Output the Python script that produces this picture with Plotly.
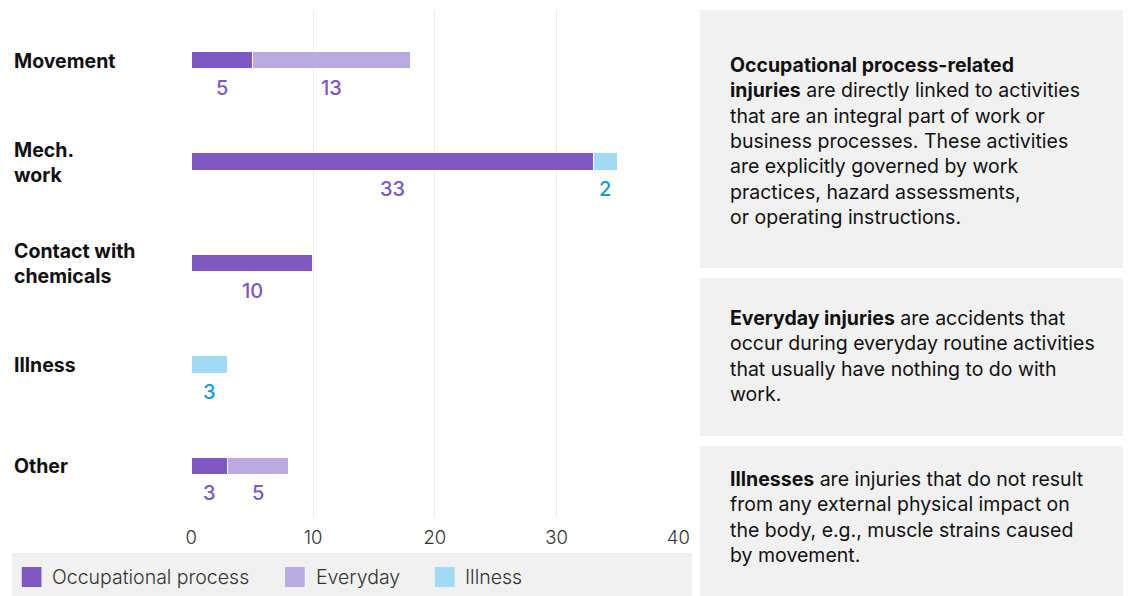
import plotly.graph_objects as go

categories = ["Movement", "Mech. work", "Contact with chemicals", "Illness", "Other"]
category_labels = ["Movement", "Mech.<br>work", "Contact with<br>chemicals", "Illness", "Other"]
series_names = ["Occupational process", "Everyday", "Illness"]
occupational = [5, 33, 10, 0, 3]
everyday = [13, 0, 0, 0, 5]
illness = [0, 2, 0, 3, 0]
x_ticks = [0, 10, 20, 30, 40]

series_values = [occupational, everyday, illness]
bar_colors = ["#7E57C5", "#BDA9E1", "#A0DAF3"]
label_colors = ["#7E57C5", "#7E57C5", "#1A9BD7"]

notes = [
    "<b>Occupational process-related</b><br><b>injuries</b> are directly linked to activities<br>that are an integral part of work or<br>business processes. These activities<br>are explicitly governed by work<br>practices, hazard assessments,<br>or operating instructions.",
    "<b>Everyday injuries</b> are accidents that<br>occur during everyday routine activities<br>that usually have nothing to do with<br>work.",
    "<b>Illnesses</b> are injuries that do not result<br>from any external physical impact on<br>the body, e.g., muscle strains caused<br>by movement.",
]

W, H = 1133, 596
FONT = "Inter, Roboto, sans-serif"


def px(x):
    return x / W


def py(y):
    return 1 - y / H


fig = go.Figure()
for name, vals, col in zip(series_names, series_values, bar_colors):
    fig.add_trace(go.Bar(
        y=categories, x=vals, name=name, orientation="h",
        marker=dict(color=col, line=dict(color="white", width=1)),
        width=0.17, showlegend=False, hoverinfo="x+name",
    ))

annotations = []
# category labels, left aligned
for cat, lab in zip(categories, category_labels):
    annotations.append(dict(
        xref="paper", yref="y", x=px(7), y=cat, text=lab, showarrow=False,
        xanchor="left", yanchor="middle", align="left",
        font=dict(family=FONT, size=19.5, color="#111111", weight=700),
    ))

# value labels under each segment
for i, cat in enumerate(categories):
    start = 0
    for vals, lc in zip(series_values, label_colors):
        v = vals[i]
        if v > 0:
            annotations.append(dict(
                xref="x", yref="y", x=start + v / 2, y=cat, yshift=-27,
                text=str(v), showarrow=False, xanchor="center", yanchor="middle",
                font=dict(family=FONT, size=20, color=lc, weight=500),
            ))
        start += v

shapes = []
# legend panel
shapes.append(dict(type="rect", xref="paper", yref="paper",
                   x0=px(7), x1=px(697), y0=py(597), y1=py(553),
                   fillcolor="#F1F1F1", line=dict(width=0), layer="below"))
legend_x = [17, 284, 436]
for name, col, lx in zip(series_names, bar_colors, legend_x):
    shapes.append(dict(type="rect", xref="paper", yref="paper",
                       x0=px(lx), x1=px(lx + 20), y0=py(587), y1=py(567),
                       fillcolor=col, line=dict(width=0)))
    annotations.append(dict(
        xref="paper", yref="paper", x=px(lx + 29), y=py(577), text=name,
        showarrow=False, xanchor="left", yanchor="middle",
        font=dict(family=FONT, size=19.5, color="#333333", weight=300),
    ))

# explanation boxes
boxes = [(10, 268, 51), (278, 436, 304), (446, 600, 465)]
for (y0, y1, ty), note in zip(boxes, notes):
    shapes.append(dict(type="rect", xref="paper", yref="paper",
                       x0=px(705), x1=px(1134), y0=py(y1), y1=py(y0),
                       fillcolor="#F1F1F1", line=dict(width=0), layer="below"))
    annotations.append(dict(
        xref="paper", yref="paper", x=px(733), y=py(ty), text=note,
        showarrow=False, xanchor="left", yanchor="top", align="left",
        font=dict(family=FONT, size=19.5, color="#111111"),
    ))

PAD = 0.06  # tiny range padding so the 0 and 40 gridlines are drawn
ppu = (683 - 189) / 40.0
fig.update_layout(
    width=W - 16, height=H - 16, margin=dict(l=0, r=0, t=0, b=0),
    paper_bgcolor="white", plot_bgcolor="white",
    barmode="stack", bargap=0,
    xaxis=dict(domain=[px(189 - PAD * ppu), px(683 + PAD * ppu)],
               range=[-PAD, 40 + PAD], tickvals=x_ticks,
               showgrid=True, gridcolor="#EBEBEB", gridwidth=1, zeroline=False,
               showline=False, ticks="", ticklabelstandoff=7,
               tickfont=dict(family=FONT, size=18.5, color="#333333", weight=300)),
    yaxis=dict(domain=[py(517), py(10)], autorange="reversed",
               showticklabels=False, showgrid=False, zeroline=False, ticks=""),
    annotations=annotations, shapes=shapes,
)

post = (
    "document.documentElement.style.margin='0';"
    "document.documentElement.style.overflow='hidden';"
    "document.body.style.margin='0';"
    "document.body.style.overflow='hidden';"
    "var gd=document.getElementById('{plot_id}');"
    "Plotly.relayout(gd,{width:%d,height:%d});" % (W, H)
)
fig.write_html("out.html", post_script=post, config={"displayModeBar": False})
